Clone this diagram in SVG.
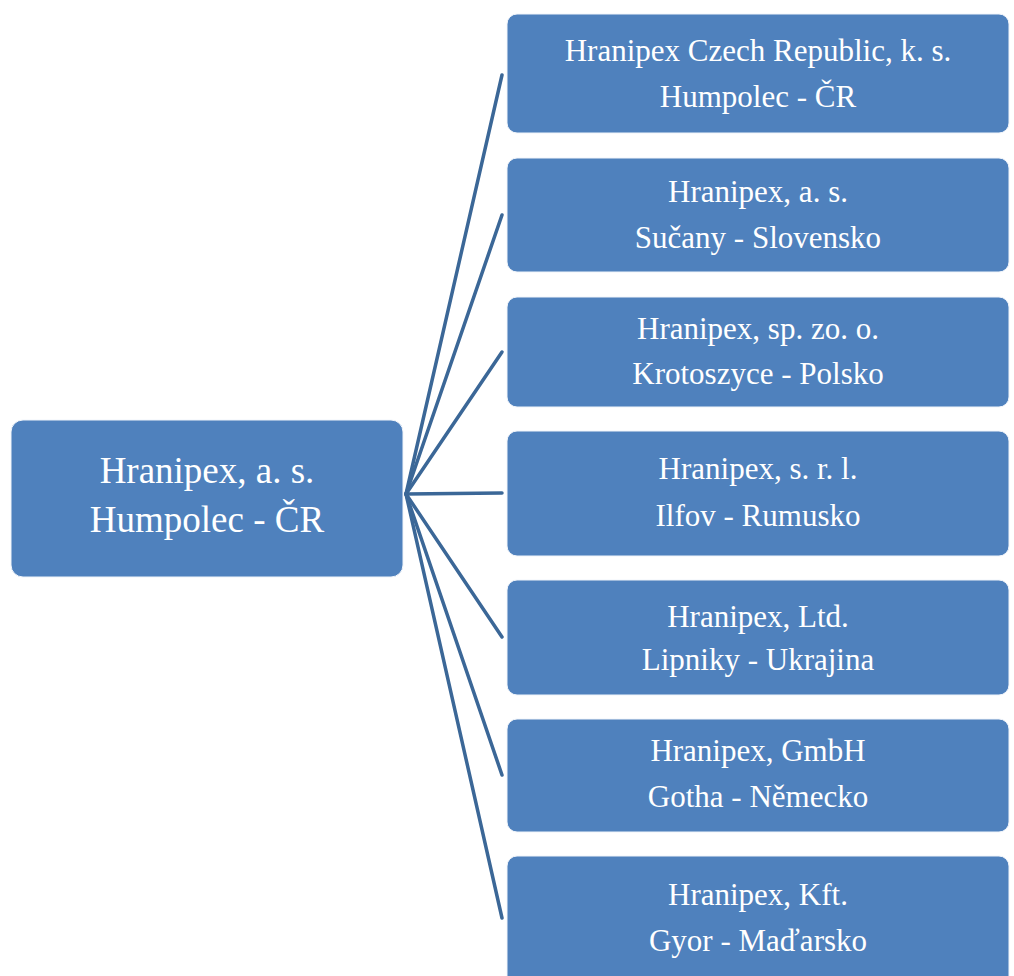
<svg xmlns="http://www.w3.org/2000/svg" width="1014" height="976" viewBox="0 0 1014 976">
<style>
.box{fill:#4f81bd;stroke:#f0f4fa;stroke-width:1}
.t{font-family:"Liberation Serif","Times New Roman",serif;fill:#ffffff;text-anchor:middle}
.s{font-size:31px}
.l{font-size:37px}
.c{stroke:#3b6797;stroke-width:3.5;fill:none;stroke-linecap:round}
</style>
<rect width="1014" height="976" fill="#ffffff"/>
<g id="connectors">
<line class="c" x1="406" y1="494" x2="502" y2="75"/>
<line class="c" x1="406" y1="494" x2="502" y2="215"/>
<line class="c" x1="406" y1="494" x2="502" y2="352"/>
<line class="c" x1="406" y1="494" x2="502" y2="493"/>
<line class="c" x1="406" y1="494" x2="502" y2="637"/>
<line class="c" x1="406" y1="494" x2="502" y2="775"/>
<line class="c" x1="406" y1="494" x2="502" y2="918"/>
</g>
<g id="root">
<rect class="box" x="11" y="420" width="392" height="157" rx="12"/>
<text class="t l" x="207" y="483">Hranipex, a. s.</text>
<text class="t l" x="207" y="532">Humpolec - ČR</text>
</g>
<g id="n1">
<rect class="box" x="507" y="14" width="502" height="119" rx="10"/>
<text class="t s" x="758" y="61">Hranipex Czech Republic, k. s.</text>
<text class="t s" x="758" y="107">Humpolec - ČR</text>
</g>
<g id="n2">
<rect class="box" x="507" y="158" width="502" height="114" rx="10"/>
<text class="t s" x="758" y="202">Hranipex, a. s.</text>
<text class="t s" x="758" y="248">Sučany - Slovensko</text>
</g>
<g id="n3">
<rect class="box" x="507" y="297" width="502" height="110" rx="10"/>
<text class="t s" x="758" y="339">Hranipex, sp. zo. o.</text>
<text class="t s" x="758" y="384">Krotoszyce - Polsko</text>
</g>
<g id="n4">
<rect class="box" x="507" y="431" width="502" height="125" rx="10"/>
<text class="t s" x="758" y="479">Hranipex, s. r. l.</text>
<text class="t s" x="758" y="526">Ilfov - Rumusko</text>
</g>
<g id="n5">
<rect class="box" x="507" y="580" width="502" height="115" rx="10"/>
<text class="t s" x="758" y="627">Hranipex, Ltd.</text>
<text class="t s" x="758" y="670">Lipniky - Ukrajina</text>
</g>
<g id="n6">
<rect class="box" x="507" y="719" width="502" height="113" rx="10"/>
<text class="t s" x="758" y="761">Hranipex, GmbH</text>
<text class="t s" x="758" y="807">Gotha - Německo</text>
</g>
<g id="n7">
<rect class="box" x="507" y="856" width="502" height="140" rx="10"/>
<text class="t s" x="758" y="905">Hranipex, Kft.</text>
<text class="t s" x="758" y="951">Gyor - Maďarsko</text>
</g>
</svg>
